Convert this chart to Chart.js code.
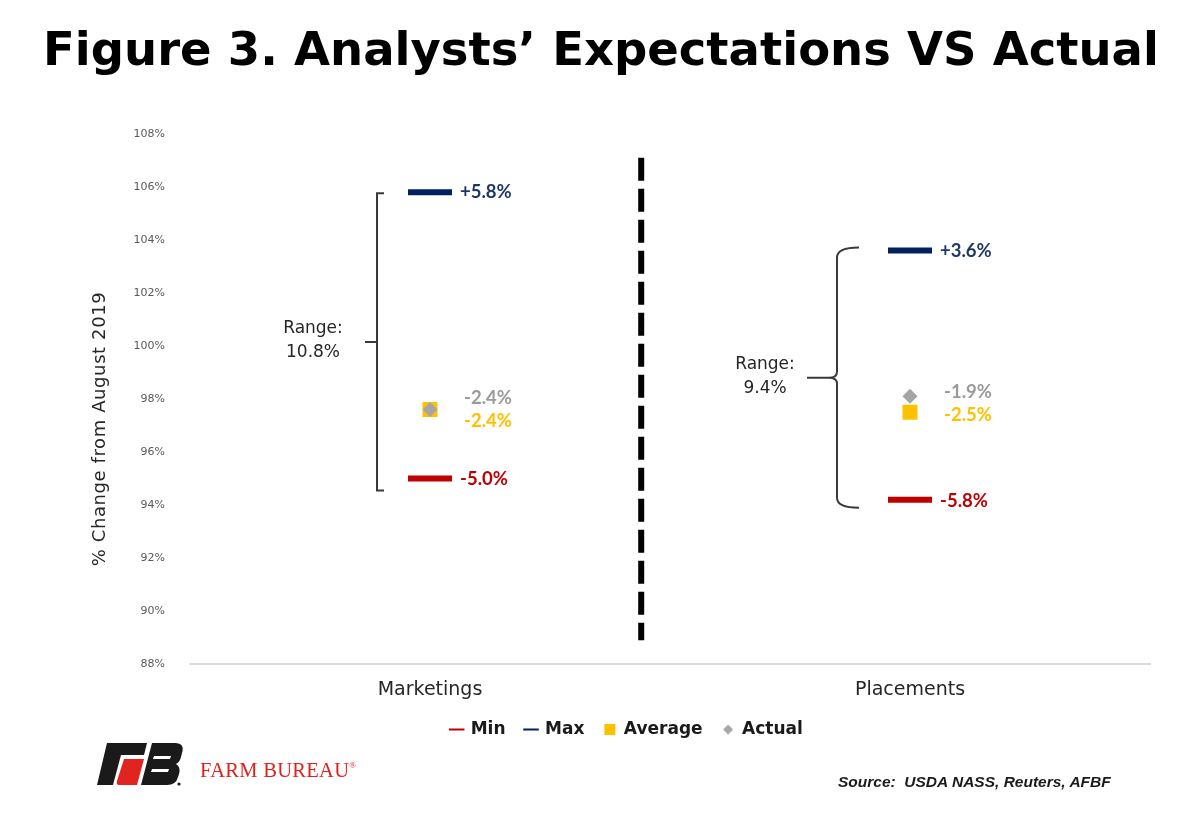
<!DOCTYPE html>
<html>
<head>
<meta charset="utf-8">
<script src="https://cdn.jsdelivr.net/npm/chart.js@4.4.1/dist/chart.umd.min.js"></script>
<style>
  html, body { margin: 0; padding: 0; background: #ffffff; }
  #wrap { position: relative; width: 1200px; height: 828px; overflow: hidden; }
  #c { position: absolute; left: 0; top: 0; }
  #logo { position: absolute; left: 97px; top: 743px; }
  #fbtext { position: absolute; left: 200px; top: 759px; font: 20.5px "Liberation Serif", serif; color: #e0211b; letter-spacing: 0.3px; }
  #fbtext sup { font-size: 9px; vertical-align: 9px; }
  #src { position: absolute; left: 838px; top: 773px; font: italic bold 15.5px "Liberation Sans", sans-serif; color: #1a1a1a; white-space: pre; }
</style>
</head>
<body>
<div id="wrap">
  <canvas id="c" width="1200" height="828"></canvas>
  <svg id="logo" width="90" height="46" viewBox="0 0 90 46">
    <path d="M10,0 H50 L47,12 H24 L16,42 H0 Z" fill="#1a1a1a"/>
    <path d="M27,16 H47 L40,42 H22 Q19,42 20,38 Z" fill="#e02420"/>
    <path d="M55,0 H78 Q88,0 85,10 L84,14 Q83,19 79,21 Q84,24 82,31 L81,34 Q79,42 70,42 H44 Z" fill="#1a1a1a"/>
    <path d="M57,13 H74 L73,16 H56 Z" fill="#ffffff"/>
    <path d="M55,26 H72 L71,29 H54 Z" fill="#ffffff"/>
    <circle cx="82" cy="41" r="1.6" fill="#1a1a1a"/>
  </svg>
  <div id="fbtext">FARM BUREAU<sup>®</sup></div>
  <div id="src">Source:  USDA NASS, Reuters, AFBF</div>
</div>
<script>
// ---------- data ----------
const categories = ['Marketings', 'Placements'];
const seriesNames = ['Min', 'Max', 'Average', 'Actual'];
const minValues = [95.0, 94.2];
const maxValues = [105.8, 103.6];
const averageValues = [97.6, 97.5];
const actualValues = [97.6, 98.1];
const yTickValues = [88, 90, 92, 94, 96, 98, 100, 102, 104, 106, 108];
const yTickLabels = ['88%', '90%', '92%', '94%', '96%', '98%', '100%', '102%', '104%', '106%', '108%'];
const chartTitle = 'Figure 3. Analysts\u2019 Expectations VS Actual';
const yAxisTitle = '% Change from August 2019';
const rangeWord = 'Range:';

// ---------- styles ----------
const RED = '#c00000', NAVY = '#002060', NAVY_TXT = '#203864', GOLD = '#ffc000', GREY = '#a5a5a5', GREY_TXT = '#9a9a9a';

function fmtChange(v) {
  const d = v - 100;
  return (d > 0 ? '+' : '') + d.toFixed(1) + '%';
}

// small diamond for legend
const legendDiamond = document.createElement('canvas');
legendDiamond.width = 10; legendDiamond.height = 10;
(function () {
  const g = legendDiamond.getContext('2d');
  g.fillStyle = GREY;
  g.beginPath(); g.moveTo(5, 0); g.lineTo(10, 5); g.lineTo(5, 10); g.lineTo(0, 5); g.closePath(); g.fill();
})();

const legendStyles = [
  { pointStyle: 'line', fillStyle: RED, strokeStyle: RED, lineWidth: 2 },
  { pointStyle: 'line', fillStyle: NAVY, strokeStyle: NAVY, lineWidth: 2 },
  { pointStyle: 'rect', fillStyle: GOLD, strokeStyle: GOLD, lineWidth: 0 },
  { pointStyle: legendDiamond, fillStyle: GREY, strokeStyle: GREY, lineWidth: 0 }
];

const overlayPlugin = {
  id: 'overlay',
  afterDatasetsDraw(chart) {
    const ctx = chart.ctx;
    const xs = chart.scales.x, ys = chart.scales.y;
    ctx.save();

    // dashed separator
    const sx = xs.getPixelForValue(0.44);
    ctx.strokeStyle = '#000000';
    ctx.lineWidth = 6;
    ctx.setLineDash([23, 8]);
    ctx.beginPath();
    ctx.moveTo(sx, ys.getPixelForValue(107.1));
    ctx.lineTo(sx, ys.getPixelForValue(88.9));
    ctx.stroke();
    ctx.setLineDash([]);

    // brackets + range text
    ctx.strokeStyle = '#3a3a3a';
    ctx.lineWidth = 2;
    categories.forEach((c, i) => {
      const cx = xs.getPixelForValue(i);
      const top = ys.getPixelForValue(maxValues[i]);
      const bot = ys.getPixelForValue(minValues[i]);
      let mid, textX;
      if (i === 0) {
        const bx = cx - 53, t = top + 1, b = bot + 12;
        mid = (t + b) / 2;
        ctx.beginPath();
        ctx.moveTo(bx + 7, t); ctx.lineTo(bx, t); ctx.lineTo(bx, b); ctx.lineTo(bx + 7, b);
        ctx.moveTo(bx, mid); ctx.lineTo(bx - 12, mid);
        ctx.stroke();
        textX = cx - 117;
      } else {
        const bx = cx - 73, t = top - 3, b = bot + 8;
        mid = (t + b) / 2;
        ctx.beginPath();
        ctx.moveTo(bx + 22, t);
        ctx.quadraticCurveTo(bx, t, bx, t + 10);
        ctx.lineTo(bx, mid - 6);
        ctx.quadraticCurveTo(bx, mid, bx - 8, mid);
        ctx.quadraticCurveTo(bx, mid, bx, mid + 6);
        ctx.lineTo(bx, b - 10);
        ctx.quadraticCurveTo(bx, b, bx + 22, b);
        ctx.moveTo(bx - 8, mid); ctx.lineTo(bx - 30, mid);
        ctx.stroke();
        textX = cx - 145;
      }
      ctx.fillStyle = '#262626';
      ctx.font = '17px "DejaVu Sans", sans-serif';
      ctx.textAlign = 'center';
      ctx.textBaseline = 'middle';
      ctx.fillText(rangeWord, textX, mid - 13);
      ctx.fillText((maxValues[i] - minValues[i]).toFixed(1) + '%', textX, mid + 11);
    });

    // value labels
    ctx.font = 'bold 18.5px Lato, sans-serif';
    ctx.textAlign = 'left';
    ctx.textBaseline = 'middle';
    categories.forEach((c, i) => {
      const cx = xs.getPixelForValue(i);
      ctx.fillStyle = NAVY_TXT;
      ctx.fillText(fmtChange(maxValues[i]), cx + 30, ys.getPixelForValue(maxValues[i]));
      ctx.fillStyle = RED;
      ctx.fillText(fmtChange(minValues[i]), cx + 30, ys.getPixelForValue(minValues[i]) + 1);
      let ya = ys.getPixelForValue(actualValues[i]);
      let yv = ys.getPixelForValue(averageValues[i]);
      if (Math.abs(ya - yv) < 22) {
        const m = (ya + yv) / 2;
        if (ya <= yv) { ya = m - 11; yv = m + 11; } else { ya = m + 11; yv = m - 11; }
      }
      ctx.fillStyle = GREY_TXT;
      ctx.fillText(fmtChange(actualValues[i]), cx + 34, ya - 1);
      ctx.fillStyle = GOLD;
      ctx.fillText(fmtChange(averageValues[i]), cx + 34, yv);
    });

    // chart title
    ctx.fillStyle = '#000000';
    ctx.font = 'bold 46.5px "DejaVu Sans", sans-serif';
    ctx.textAlign = 'center';
    ctx.textBaseline = 'middle';
    ctx.fillText(chartTitle, 601, 53);

    // y axis title
    ctx.translate(100, 429);
    ctx.rotate(-Math.PI / 2);
    ctx.fillStyle = '#262626';
    ctx.font = '18px "DejaVu Sans", sans-serif';
    if ('letterSpacing' in ctx) ctx.letterSpacing = '0.6px';
    ctx.fillText(yAxisTitle, 0, 0);
    ctx.restore();
  }
};

new Chart(document.getElementById('c'), {
  type: 'line',
  data: {
    labels: categories,
    datasets: [
      { label: seriesNames[0], data: minValues, showLine: false, pointStyle: 'line', pointRadius: 22, pointHoverRadius: 22,
        pointBorderWidth: 6, pointHoverBorderWidth: 6, borderColor: RED, backgroundColor: RED, order: 2 },
      { label: seriesNames[1], data: maxValues, showLine: false, pointStyle: 'line', pointRadius: 22, pointHoverRadius: 22,
        pointBorderWidth: 6, pointHoverBorderWidth: 6, borderColor: NAVY, backgroundColor: NAVY, order: 3 },
      { label: seriesNames[2], data: averageValues, showLine: false, pointStyle: 'rect', pointRadius: 10.6, pointHoverRadius: 10.6,
        pointBorderWidth: 0, borderColor: GOLD, backgroundColor: GOLD, order: 1 },
      { label: seriesNames[3], data: actualValues, showLine: false, pointStyle: 'rectRot', pointRadius: 7.5, pointHoverRadius: 7.5,
        pointBorderWidth: 0, borderColor: GREY, backgroundColor: GREY, order: 0 }
    ]
  },
  options: {
    responsive: false,
    animation: false,
    events: [],
    layout: { padding: { top: 134, left: 104, right: 50, bottom: 80 } },
    scales: {
      x: {
        offset: true,
        grid: { display: false, drawTicks: false },
        border: { display: true, color: '#d9d9d9', width: 2 },
        ticks: { padding: 15, color: '#262626', font: { family: '"DejaVu Sans", sans-serif', size: 19 } },
        afterFit: (s) => { s.height = 37; }
      },
      y: {
        min: 88, max: 108,
        grid: { display: false, drawTicks: false },
        border: { display: false },
        ticks: {
          stepSize: 2, padding: 25, color: '#595959',
          font: { family: '"DejaVu Sans", sans-serif', size: 11 },
          callback: (v) => { const k = yTickValues.indexOf(v); return k >= 0 ? yTickLabels[k] : ''; }
        },
        afterFit: (s) => { s.width = 86; }
      }
    },
    plugins: {
      title: { display: false },
      tooltip: { enabled: false },
      legend: {
        display: true,
        position: 'bottom',
        labels: {
          usePointStyle: true,
          boxWidth: 11, boxHeight: 11,
          padding: 20,
          color: '#1a1a1a',
          font: { family: '"DejaVu Sans", sans-serif', size: 17, weight: 'bold' },
          generateLabels: (chart) => chart.data.datasets.map((ds, i) => ({
            text: ds.label,
            fillStyle: legendStyles[i].fillStyle,
            strokeStyle: legendStyles[i].strokeStyle,
            lineWidth: legendStyles[i].lineWidth,
            pointStyle: legendStyles[i].pointStyle,
            hidden: false,
            datasetIndex: i,
            fontColor: '#1a1a1a'
          }))
        }
      }
    }
  },
  plugins: [overlayPlugin]
});
</script>
</body>
</html>
